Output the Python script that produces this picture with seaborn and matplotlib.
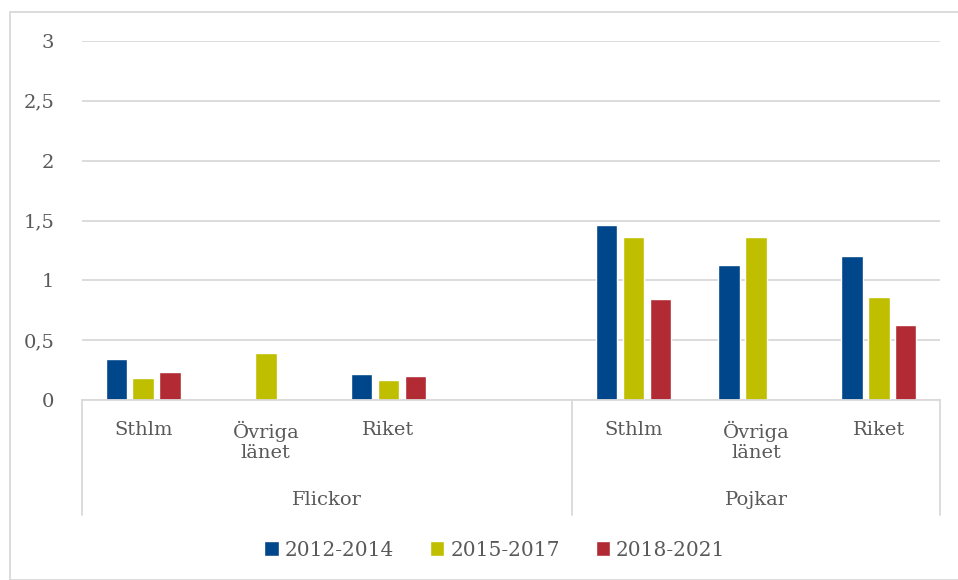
import pandas as pd
import numpy as np
import matplotlib
matplotlib.use("Agg")
import matplotlib.pyplot as plt
import seaborn as sns
from matplotlib.patches import Rectangle

# ===== Data =====
groups = ["Flickor", "Flickor", "Flickor", "Flickor", "Pojkar", "Pojkar", "Pojkar"]
places = ["Sthlm", "Övriga\nlänet", "Riket", "", "Sthlm", "Övriga\nlänet", "Riket"]
periods = ["2012-2014", "2015-2017", "2018-2021"]
v_2012_2014 = [0.34, np.nan, 0.22, np.nan, 1.46, 1.13, 1.20]
v_2015_2017 = [0.18, 0.39, 0.17, np.nan, 1.36, 1.36, 0.86]
v_2018_2021 = [0.23, np.nan, 0.20, np.nan, 0.84, np.nan, 0.63]
colors = ["#00468B", "#BFBF00", "#B22A33"]

keys = [f"{g}|{p}" for g, p in zip(groups, places)]
rows = []
for per, vals in zip(periods, [v_2012_2014, v_2015_2017, v_2018_2021]):
    for k, v in zip(keys, vals):
        if not np.isnan(v):
            rows.append({"cat": k, "period": per, "value": v})
df = pd.DataFrame(rows)

# ===== Plot =====
sns.set_style("white")
plt.rcParams["font.family"] = ["DejaVu Serif"]
text_col = "#595959"
grid_col = "#D9D9D9"

fig = plt.figure(figsize=(9.58, 5.8), dpi=100)
W, H = 958, 580
ax = fig.add_axes([82 / W, 1 - 400 / H, (940 - 82) / W, (400 - 41) / H])

sns.barplot(data=df, x="cat", y="value", hue="period", order=keys,
            hue_order=periods, palette=colors, width=0.66, gap=0.2,
            saturation=1, ax=ax, errorbar=None)

ax.set_xlim(-0.5, len(keys) - 0.5)
ax.set_ylim(0, 3)
ax.set_yticks([0, 0.5, 1, 1.5, 2, 2.5, 3])
ax.set_yticklabels(["0", "0,5", "1", "1,5", "2", "2,5", "3"])
ax.yaxis.grid(True, color=grid_col, lw=1.3)
ax.set_axisbelow(True)
for s in ["top", "right", "left"]:
    ax.spines[s].set_visible(False)
ax.spines["bottom"].set_color(grid_col)
ax.spines["bottom"].set_linewidth(1.3)
ax.tick_params(axis="y", length=0, pad=20, labelsize=14, labelcolor=text_col)
ax.tick_params(axis="x", length=0, pad=15, labelsize=14, labelcolor=text_col)
ax.set_xticks(range(len(keys)))
ax.set_xticklabels(places, linespacing=1.15)
for lbl in ax.get_xticklabels():
    lbl.set_verticalalignment("top")
ax.set_xlabel("")
ax.set_ylabel("")

# group labels and separators
trans = ax.get_xaxis_transform()
for x in [-0.5, 3.5, 6.5]:
    ax.plot([x, x], [0, -115 / 359], color=grid_col, lw=1.3,
            transform=trans, clip_on=False)
ax.text(1.5, -100 / 359, "Flickor", transform=trans, ha="center", va="center",
        fontsize=14, color=text_col)
ax.text(5, -100 / 359, "Pojkar", transform=trans, ha="center", va="center",
        fontsize=14, color=text_col)

# legend
handles, labels = ax.get_legend_handles_labels()
ax.legend(handles, labels, loc="center", bbox_to_anchor=(495 / W, 1 - 550 / H),
          bbox_transform=fig.transFigure, ncol=3, frameon=False,
          handlelength=0.7, handleheight=0.7, handletextpad=0.3,
          columnspacing=1.8, fontsize=14.5, labelcolor=text_col)

# outer border
fig.patches.append(Rectangle((10 / W, 0), 1, 1 - 12 / H, transform=fig.transFigure,
                             fill=False, edgecolor=grid_col, lw=1.3))

fig.savefig("out.png", dpi=100)
